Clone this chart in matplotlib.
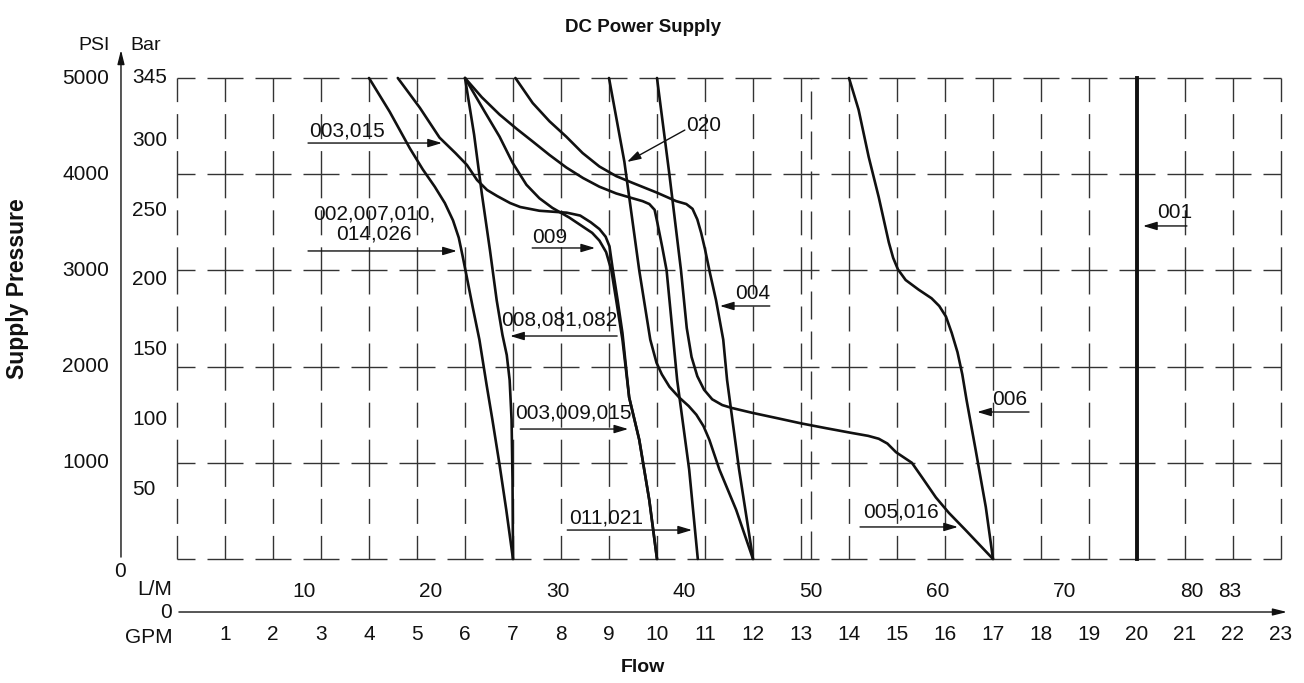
import matplotlib.pyplot as plt
import numpy as np

plt.rcParams['font.family'] = ['Liberation Sans', 'DejaVu Sans']

TITLE = "DC Power Supply"
X_LABEL = "Flow"
Y_LABEL = "Supply Pressure"

GPM_TICKS = list(range(1, 24))
LM_TICKS = [10, 20, 30, 40, 50, 60, 70, 80, 83]
PSI_TICKS = [1000, 2000, 3000, 4000, 5000]
BAR_TICKS = [50, 100, 150, 200, 250, 300, 345]
PSI_PER_BAR = 14.5038
LM_PER_GPM = 3.785

# pump curves: flow in GPM, pressure in PSI
c002_gpm = [4.0, 4.43, 4.85, 5.12, 5.37, 5.58, 5.75, 5.87, 5.95, 6.03, 6.16, 6.30, 6.45, 6.57,
            6.72, 6.86, 7.0]
c002_psi = [5000, 4650, 4270, 4050, 3870, 3700, 3520, 3340, 3150, 2950, 2620, 2280, 1810, 1450,
            980, 510, 0]

c008_gpm = [6.0, 6.19, 6.35, 6.52, 6.66, 6.78, 6.87, 6.93, 6.97, 6.99, 7.0]
c008_psi = [5000, 4410, 3800, 3210, 2690, 2330, 2120, 1860, 1450, 820, 0]

c003_gpm = [4.6, 5.06, 5.47, 5.80, 6.04, 6.25, 6.46, 6.67, 6.94, 7.15, 7.55, 8.12, 8.40, 8.62,
            8.80, 8.93, 9.01, 9.07, 9.18, 9.28, 9.42, 9.63, 9.84, 10.0]
c003_psi = [5000, 4690, 4380, 4220, 4096, 3940, 3836, 3773, 3700, 3659, 3620, 3600, 3570, 3500,
            3430, 3350, 3250, 3040, 2690, 2350, 1680, 1240, 610, 0]

c009_gpm = [6.0, 6.41, 6.72, 6.99, 7.28, 7.55, 7.82, 8.17, 8.44, 8.65, 8.80, 8.94, 9.05, 9.15,
            9.28, 9.42, 9.63, 9.84, 10.0]
c009_psi = [5000, 4650, 4390, 4120, 3890, 3750, 3650, 3550, 3460, 3390, 3310, 3190, 3000, 2690,
            2280, 1680, 1240, 610, 0]

c011_gpm = [6.0, 6.35, 6.72, 7.08, 7.41, 7.76, 8.11, 8.46, 8.80, 9.15, 9.49, 9.70, 9.84, 9.95,
            10.01, 10.11, 10.20, 10.32, 10.42, 10.67, 10.85]
c011_psi = [5000, 4800, 4620, 4470, 4340, 4200, 4070, 3960, 3870, 3800, 3750, 3720, 3690, 3630,
            3490, 3240, 3000, 2380, 1860, 930, 0]

c004_gpm = [7.05, 7.41, 7.76, 8.11, 8.45, 8.80, 9.15, 9.49, 9.99, 10.40, 10.61, 10.74, 10.84,
            10.92, 11.00, 11.10, 11.23, 11.38, 11.46, 11.71, 12.0]
c004_psi = [5000, 4740, 4550, 4390, 4220, 4080, 3980, 3910, 3810, 3720, 3690, 3640, 3530,
            3390, 3220, 2980, 2690, 2280, 1860, 930, 0]

c020_gpm = [9.0, 9.32, 9.63, 9.86, 9.99, 10.10, 10.26, 10.46, 10.66, 10.82, 10.97, 11.09, 11.30,
            11.65, 12.0]
c020_psi = [5000, 4130, 3000, 2280, 2040, 1920, 1790, 1680, 1590, 1500, 1380, 1240, 930,
            510, 0]

c005_gpm = [10.0, 10.26, 10.50, 10.62, 10.72, 10.84, 10.98, 11.15, 11.36, 11.56, 11.98, 12.54,
            13.0, 13.52, 14.06, 14.40, 14.62, 14.80, 14.98, 15.31, 15.52, 15.81, 16.08, 16.43, 17.0]
c005_psi = [5000, 3990, 3000, 2400, 2100, 1900, 1760, 1660, 1600, 1570, 1520, 1460,
            1410, 1360, 1310, 1280, 1250, 1200, 1110, 1000, 850, 640, 480, 300, 0]

c006_gpm = [14.0, 14.20, 14.41, 14.62, 14.83, 14.92, 15.02, 15.18, 15.45, 15.72, 15.88, 16.02,
            16.14, 16.26, 16.36, 16.45, 16.64, 16.85, 17.0]
c006_psi = [5000, 4670, 4180, 3760, 3290, 3130, 3010, 2900, 2800, 2710, 2630, 2520,
            2350, 2150, 1920, 1650, 1130, 540, 0]

c001_gpm = [20.0, 20.0]
c001_psi = [0, 5000]

CURVES = [
    (c002_gpm, c002_psi), (c008_gpm, c008_psi), (c003_gpm, c003_psi), (c009_gpm, c009_psi),
    (c011_gpm, c011_psi), (c004_gpm, c004_psi), (c020_gpm, c020_psi), (c005_gpm, c005_psi),
    (c006_gpm, c006_psi),
]

# callouts: text, text anchor (gpm, psi), alignment, arrow start, arrow tip
CALLOUTS = [
    ("003,015", (2.75, 4449), "left", (2.73, 4324), (5.52, 4324)),
    ("002,007,010,\n014,026", (4.1, 3482), "center", (2.73, 3202), (5.83, 3202)),
    ("009", (7.40, 3347), "left", (7.40, 3233), (8.71, 3233)),
    ("008,081,082", (9.17, 2484), "right", (9.17, 2318), (6.94, 2318)),
    ("003,009,015", (9.48, 1518), "right", (7.15, 1351), (9.40, 1351)),
    ("011,021", (9.71, 426), "right", (8.13, 301), (10.73, 301)),
    ("020", (10.60, 4511), "left", (10.58, 4459), (9.375, 4127)),
    ("004", (11.625, 2755), "left", (12.35, 2630), (11.31, 2630)),
    ("006", (16.98, 1653), "left", (17.75, 1528), (16.67, 1528)),
    ("005,016", (14.29, 489), "left", (14.23, 333), (16.27, 333)),
    ("001", (20.42, 3597), "left", (21.04, 3462), (20.125, 3462)),
]

INK = "#111111"
GRID = "#333333"
FS = 15
ARROW = "-|>,head_length=0.6,head_width=0.18"

fig = plt.figure(figsize=(13.04, 6.83), dpi=100)
ax = fig.add_axes([177 / 1304, 124 / 683, 1104 / 1304, 481 / 683])
ax.set_xlim(0, 23)
ax.set_ylim(0, 5000)
ax.axis("off")

# dashed grid: long dashes centred on each crossing (pattern in points, 1 px = 0.72 pt)
pt = 0.72
for p in [0] + PSI_TICKS:
    ax.plot([0, 23], [p, p], color=GRID, lw=1.0, dash_capstyle="butt",
            linestyle=(18 * pt, (36 * pt, 12 * pt)), clip_on=False)
for g in range(0, 24):
    ax.plot([g, g], [0, 5000], color=GRID, lw=1.0, dash_capstyle="butt",
            linestyle=(23.6 * pt, (47.2 * pt, 12 * pt, 25 * pt, 12 * pt)), clip_on=False)
# extra line at 50 L/M
ax.plot([50 / LM_PER_GPM] * 2, [0, 5000], color=GRID, lw=1.0, dash_capstyle="butt",
        linestyle=(0, (28 * pt, 12 * pt)), clip_on=False)

for gx, gy in CURVES:
    ax.plot(gx, gy, color=INK, lw=1.9, solid_joinstyle="round", solid_capstyle="round",
            clip_on=False)
ax.plot(c001_gpm, c001_psi, color=INK, lw=2.8, clip_on=False)

for text, (tx, ty), ha, (ax0, ay0), (ax1, ay1) in CALLOUTS:
    ax.text(tx, ty, text, ha=ha, va="center", fontsize=FS, color=INK,
            linespacing=1.1, multialignment="center")
    ax.annotate("", xy=(ax1, ay1), xytext=(ax0, ay0), annotation_clip=False,
                arrowprops=dict(arrowstyle=ARROW, mutation_scale=14, lw=1.0, color=INK,
                                shrinkA=0, shrinkB=0))

# left pressure axis
ax.annotate("", xy=(-1.167, 5291), xytext=(-1.167, 20), annotation_clip=False,
            arrowprops=dict(arrowstyle="-|>,head_length=0.6,head_width=0.15",
                            mutation_scale=14, lw=1.0, color=INK, shrinkA=0, shrinkB=0))
for p in PSI_TICKS:
    ax.text(-1.417, p, f"{p}", ha="right", va="center", fontsize=FS, color=INK)
for b in BAR_TICKS:
    ax.text(-0.94, b * PSI_PER_BAR, f"{b}", ha="left", va="center", fontsize=FS, color=INK)
ax.text(-1.40, 5343, "PSI", ha="right", va="center", fontsize=FS - 1, color=INK)
ax.text(-0.98, 5343, "Bar", ha="left", va="center", fontsize=FS - 1, color=INK)
ax.text(-1.19, -125, "0", ha="center", va="center", fontsize=FS, color=INK)

# bottom flow axis
ax.annotate("", xy=(23.125, -551), xytext=(0.04, -551), annotation_clip=False,
            arrowprops=dict(arrowstyle="-|>,head_length=0.6,head_width=0.15",
                            mutation_scale=14, lw=1.0, color=INK, shrinkA=0, shrinkB=0))
ax.text(-0.10, -561, "0", ha="right", va="center", fontsize=FS, color=INK)
ax.text(-0.10, -322, "L/M", ha="right", va="center", fontsize=FS, color=INK)
ax.text(-0.10, -811, "GPM", ha="right", va="center", fontsize=FS, color=INK)
for g in GPM_TICKS:
    ax.text(g, -780, f"{g}", ha="center", va="center", fontsize=FS, color=INK)
for lm in LM_TICKS:
    ax.text(lm / LM_PER_GPM, -333, f"{lm}", ha="center", va="center", fontsize=FS, color=INK)

fig.text(643 / 1304, 1 - 28 / 683, TITLE, ha="center", va="center",
         fontsize=13.5, fontweight="bold", color=INK)
fig.text(643 / 1304, 1 - 667 / 683, X_LABEL, ha="center", va="center",
         fontsize=14, fontweight="bold", color=INK)
fig.text(18 / 1304, 1 - 289 / 683, Y_LABEL, ha="center", va="center", rotation=90,
         fontsize=16.5, fontweight="bold", color=INK)

fig.savefig("out.png", dpi=100)
